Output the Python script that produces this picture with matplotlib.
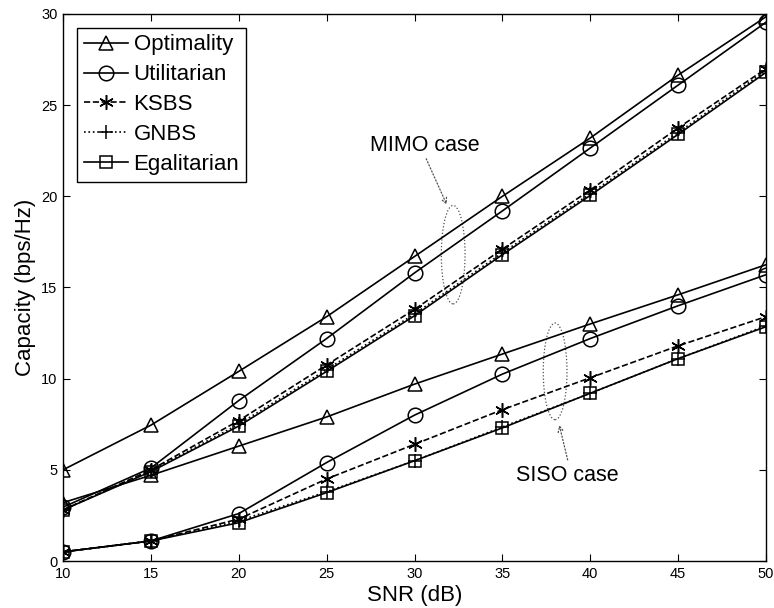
import matplotlib
matplotlib.use("Agg")
import matplotlib.pyplot as plt
from matplotlib.patches import Ellipse

plt.rcParams['font.family'] = ['Liberation Sans', 'DejaVu Sans']

snr = [10, 15, 20, 25, 30, 35, 40, 45, 50]

# MIMO case
mimo_opt = [5.0, 7.45, 10.4, 13.4, 16.7, 20.0, 23.2, 26.65, 29.85]
mimo_util = [2.95, 5.1, 8.8, 12.2, 15.8, 19.2, 22.65, 26.1, 29.55]
mimo_ksbs = [2.8, 5.0, 7.7, 10.75, 13.8, 17.1, 20.35, 23.75, 27.0]
mimo_gnbs = [2.8, 4.95, 7.5, 10.5, 13.55, 16.9, 20.15, 23.5, 26.9]
mimo_egal = [2.8, 4.9, 7.4, 10.4, 13.45, 16.8, 20.05, 23.4, 26.8]

# SISO case
siso_opt = [3.2, 4.7, 6.3, 7.9, 9.7, 11.35, 13.0, 14.6, 16.25]
siso_util = [0.5, 1.1, 2.6, 5.4, 8.0, 10.25, 12.2, 14.0, 15.7]
siso_ksbs = [0.5, 1.1, 2.3, 4.5, 6.4, 8.3, 10.05, 11.8, 13.4]
siso_gnbs = [0.5, 1.1, 2.2, 3.8, 5.5, 7.35, 9.2, 11.1, 12.9]
siso_egal = [0.5, 1.1, 2.1, 3.75, 5.5, 7.3, 9.2, 11.1, 12.85]

labels = ['Optimality', 'Utilitarian', 'KSBS', 'GNBS', 'Egalitarian']

fig = plt.figure(figsize=(7.74, 6.08), dpi=100)
ax = fig.add_axes([0.0814, 0.0773, 0.9083, 0.8997])

lw = 1.2
styles = [
    dict(ls='-', marker='^', ms=10.5),
    dict(ls='-', marker='o', ms=10.5),
    dict(ls='--', marker=(6, 2, 0), ms=10.5),
    dict(ls=':', marker='+', ms=10.5),
    dict(ls='-', marker='s', ms=8.5),
]

mimo = [mimo_opt, mimo_util, mimo_ksbs, mimo_gnbs, mimo_egal]
siso = [siso_opt, siso_util, siso_ksbs, siso_gnbs, siso_egal]

for lab, st, ym, ys in zip(labels, styles, mimo, siso):
    ax.plot(snr, ym, color='k', lw=lw, mfc='none', mec='k', mew=1.1,
            label=lab, **st)
    ax.plot(snr, ys, color='k', lw=lw, mfc='none', mec='k', mew=1.1, **st)

# annotations
ax.add_patch(Ellipse((32.2, 16.8), 1.35, 5.4, fill=False, ls=':', lw=0.9,
                     ec='0.3'))
ax.add_patch(Ellipse((38.0, 10.4), 1.35, 5.3, fill=False, ls=':', lw=0.9,
                     ec='0.3'))
ax.annotate('', xy=(31.9, 19.4), xytext=(30.6, 22.2),
            arrowprops=dict(arrowstyle='->', ls=':', color='0.3', lw=0.9))
ax.annotate('', xy=(38.2, 7.6), xytext=(38.75, 5.4),
            arrowprops=dict(arrowstyle='->', ls=':', color='0.3', lw=0.9))
ax.text(30.6, 22.8, 'MIMO case', ha='center', va='center', fontsize=15.5)
ax.text(38.7, 4.7, 'SISO case', ha='center', va='center', fontsize=15.5)

ax.set_xlim(10, 50)
ax.set_ylim(0, 30)
ax.set_xticks(snr)
ax.set_yticks([0, 5, 10, 15, 20, 25, 30])
ax.tick_params(direction='in', top=True, right=True, labelsize=10.5,
               length=5, width=0.8, pad=4)
for s in ax.spines.values():
    s.set_linewidth(1.0)
ax.set_xlabel('SNR (dB)', fontsize=16, labelpad=3)
ax.set_ylabel('Capacity (bps/Hz)', fontsize=16, labelpad=4)

leg = ax.legend(loc='upper left', bbox_to_anchor=(0.004, 0.995), fontsize=16,
                fancybox=False, edgecolor='k', framealpha=1, handlelength=2.0,
                handletextpad=0.25, borderpad=0.3, labelspacing=0.4)
leg.get_frame().set_linewidth(1.0)

fig.savefig('out.png', dpi=100)
